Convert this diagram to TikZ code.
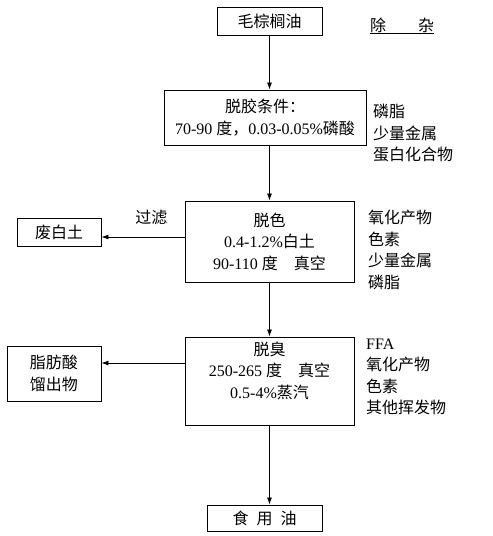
\documentclass[tikz,border=0pt]{standalone}
\usepackage{fontspec}
\setmainfont{Liberation Serif}
\newfontfamily\cjk{Noto Sans CJK SC}
\newcommand{\zhtxt}[1]{{\cjk #1}}
\usetikzlibrary{arrows.meta,calc,positioning}

\begin{document}
\begin{tikzpicture}[x=1pt,y=-1pt,
    font=\fontsize{16}{21.5}\selectfont,
    >={Latex[length=7pt,width=5pt]},
    box/.style={draw,line width=0.9pt,align=center,inner sep=2pt},
    flow/.style={->,line width=0.8pt},
    side/.style={align=left,anchor=west,inner sep=0pt}]
   \useasboundingbox (0,0) rectangle (493,536);
   % main line
   \node[box,minimum width=105,minimum height=28] (crude) at (269.5,21) {\zhtxt{毛棕榈油}};
   \node[anchor=base west,inner sep=0pt] (title) at (370,31) {\underline{\zhtxt{除}\hspace{2em}\zhtxt{杂}}};
   \node[box,minimum width=202,minimum height=55] (degum) at (265,117.5)
      {\zhtxt{脱胶条件：}\\70-90 \zhtxt{度，}0.03-0.05\%\zhtxt{磷酸}};
   \node[box,minimum width=169,minimum height=81] (bleach) at (269.5,241.5)
      {\zhtxt{脱色}\\0.4-1.2\%\zhtxt{白土}\\90-110 \zhtxt{度　真空}};
   \node[box,minimum width=169,minimum height=88] (deodor) at (269.5,381)
      {\zhtxt{脱臭}\\250-265 \zhtxt{度　真空}\\0.5-4\%\zhtxt{蒸汽}\\\mbox{}};
   \node[box,minimum width=115,minimum height=26] (oil) at (264.5,518) {\zhtxt{食\enspace 用\enspace 油}};
   % by-products
   \node[box,minimum width=84,minimum height=28] (clay) at (59,232) {\zhtxt{废白土}};
   \node[box,minimum width=94,minimum height=55] (fatty) at (54,373.5) {\zhtxt{脂肪酸}\\\zhtxt{馏出物}};
   % removed impurities
   \node[side] (degumout) at (373,133.5) {\zhtxt{磷脂}\\\zhtxt{少量金属}\\\zhtxt{蛋白化合物}};
   \node[side] (bleachout) at (368,250) {\zhtxt{氧化产物}\\\zhtxt{色素}\\\zhtxt{少量金属}\\\zhtxt{磷脂}};
   \node[side] (deodorout) at (366,377) {FFA\\\zhtxt{氧化产物}\\\zhtxt{色素}\\\zhtxt{其他挥发物}};
   % flows
   \draw[flow] (crude.south) -- (crude.south |- degum.north);
   \draw[flow] (bleach.north |- degum.south) -- (bleach.north);
   \draw[flow] (bleach.south) -- (deodor.north);
   \draw[flow] (deodor.south) -- (deodor.south |- oil.north);
   \draw[flow] ($(clay.east -| bleach.west)+(0,5)$) --
      node[pos=0.4,above=10pt,inner sep=2pt] (filter) {\zhtxt{过滤}} ($(clay.east)+(0,5)$);
   \draw[flow] ($(fatty.east -| deodor.west)+(0,-10.5)$) -- ($(fatty.east)+(0,-10.5)$);
\end{tikzpicture}
\end{document}
